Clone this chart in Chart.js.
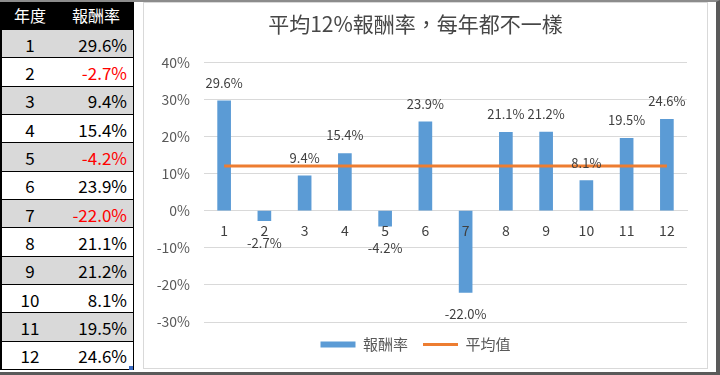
<!DOCTYPE html>
<html>
<head>
<meta charset="utf-8">
<script src="https://cdn.jsdelivr.net/npm/chart.js@4.4.0/dist/chart.umd.min.js"></script>
<style>
  body { margin: 0; width: 720px; height: 375px; overflow: hidden; background: #fff; position: relative;
         font-family: "Noto Sans CJK TC", sans-serif; }
  #frame { position: absolute; left: 0; top: 0; width: 720px; height: 375px; box-sizing: border-box;
           border-top: 2px solid #8c8c8c; border-right: 4px solid #5a5a5a; border-bottom: 3px solid #5a5a5a;
           pointer-events: none; z-index: 5; }
  #tbl { position: absolute; left: 0; top: 0; width: 134px; height: 370px; box-sizing: border-box;
         border-left: 2px solid #000; border-right: 1px solid #000; }
  .row { position: absolute; left: 0; width: 131px; box-sizing: border-box; border-bottom: 1px solid #000;
         font-size: 17px; color: #000; }
  .row span { position: absolute; top: 50%; transform: translateY(-50%); white-space: nowrap; }
  .c1 { left: 0; width: 56px; text-align: center; }
  .c2 { right: 6px; text-align: right; }
  .hdr { background: #000; color: #fff; border-bottom: none; font-size: 16px; }
  .hdr .c2 { right: 13px; }
  .gray { background: #d9d9d9; }
  .neg { color: #ff0000; }
  #handle { position: absolute; left: 129px; top: 366px; width: 4px; height: 4px; background: #3a6bc4; }
  #box { position: absolute; left: 143px; top: 2px; width: 565px; height: 367px; box-sizing: border-box;
         border: 1px solid #d9d9d9; }
  #wrap { position: absolute; left: 144px; top: 3px; width: 563px; height: 365px; }
</style>
</head>
<body>
<div id="tbl"></div>
<div id="handle"></div>
<div id="box"></div>
<div id="wrap"><canvas id="chart"></canvas></div>
<div id="frame"></div>
<script>
const years = ['1', '2', '3', '4', '5', '6', '7', '8', '9', '10', '11', '12'];
const returns = [29.6, -2.7, 9.4, 15.4, -4.2, 23.9, -22.0, 21.1, 21.2, 8.1, 19.5, 24.6];
const average = [12, 12, 12, 12, 12, 12, 12, 12, 12, 12, 12, 12];
const headers = ['年度', '報酬率'];
const seriesNames = ['報酬率', '平均值'];
const chartTitle = '平均12%報酬率，每年都不一樣';

// table on the left, built from the same arrays
const tbl = document.getElementById('tbl');
const rowH = 340 / 12;
let html = '<div class="row hdr" style="top:0;height:30px"><span class="c1">' + headers[0] +
           '</span><span class="c2">' + headers[1] + '</span></div>';
years.forEach((y, i) => {
  const v = returns[i];
  const cls = 'row' + (i % 2 === 0 ? ' gray' : '');
  html += '<div class="' + cls + '" style="top:' + (30 + i * rowH) + 'px;height:' + rowH + 'px">' +
          '<span class="c1">' + y + '</span>' +
          '<span class="c2' + (v < 0 ? ' neg' : '') + '">' + v.toFixed(1) + '%</span></div>';
});
tbl.innerHTML = html;

const font = '"Noto Sans CJK TC", sans-serif';

const barLabels = {
  id: 'barLabels',
  afterDatasetsDraw(chart) {
    const meta = chart.getDatasetMeta(0);
    const ctx = chart.ctx;
    ctx.save();
    ctx.font = '13px ' + font;
    ctx.fillStyle = '#404040';
    ctx.textAlign = 'center';
    ctx.textBaseline = 'middle';
    meta.data.forEach((bar, i) => {
      const v = returns[i];
      const y = v >= 0 ? bar.y - 18 : bar.y + 22;
      ctx.fillText(v.toFixed(1) + '%', bar.x, y);
    });
    ctx.restore();
  }
};

new Chart(document.getElementById('chart'), {
  data: {
    labels: years,
    datasets: [{
      type: 'bar',
      label: seriesNames[0],
      data: returns,
      backgroundColor: '#5b9bd5',
      barThickness: 13,
      order: 1
    }, {
      type: 'line',
      label: seriesNames[1],
      data: average,
      borderColor: '#ed7d31',
      backgroundColor: '#ed7d31',
      borderWidth: 3,
      pointRadius: 0,
      tension: 0,
      order: 0
    }]
  },
  options: {
    responsive: true,
    maintainAspectRatio: false,
    animation: false,
    layout: { padding: { left: 0, right: 20, top: 0, bottom: 6 } },
    plugins: {
      tooltip: { enabled: false },
      title: {
        display: true,
        text: chartTitle,
        color: '#474747',
        font: { family: font, size: 21, weight: 'normal' },
        padding: { top: 8, bottom: 26 }
      },
      legend: {
        position: 'bottom',
        labels: {
          usePointStyle: true,
          pointStyleWidth: 35,
          boxHeight: 6,
          padding: 15,
          color: '#595959',
          font: { family: font, size: 15 },
          sort: (a, b) => a.datasetIndex - b.datasetIndex,
          generateLabels(chart) {
            const items = Chart.defaults.plugins.legend.labels.generateLabels(chart);
            items.forEach(it => { it.pointStyle = it.datasetIndex === 0 ? 'rect' : 'line'; });
            return items;
          }
        }
      }
    },
    scales: {
      x: {
        position: { y: 0 },
        grid: { display: false, drawTicks: false },
        border: { display: true, color: '#d9d9d9', width: 1 },
        ticks: { z: 1, color: '#404040', padding: 12, font: { family: font, size: 14 } }
      },
      y: {
        min: -30,
        max: 40,
        afterFit(scale) { scale.width = 60; },
        grid: { color: '#d9d9d9', drawTicks: false },
        border: { display: false },
        ticks: {
          stepSize: 10,
          padding: 14,
          color: '#595959',
          font: { family: font, size: 14 },
          callback: v => v + '%'
        }
      }
    }
  },
  plugins: [barLabels]
});
</script>
</body>
</html>
